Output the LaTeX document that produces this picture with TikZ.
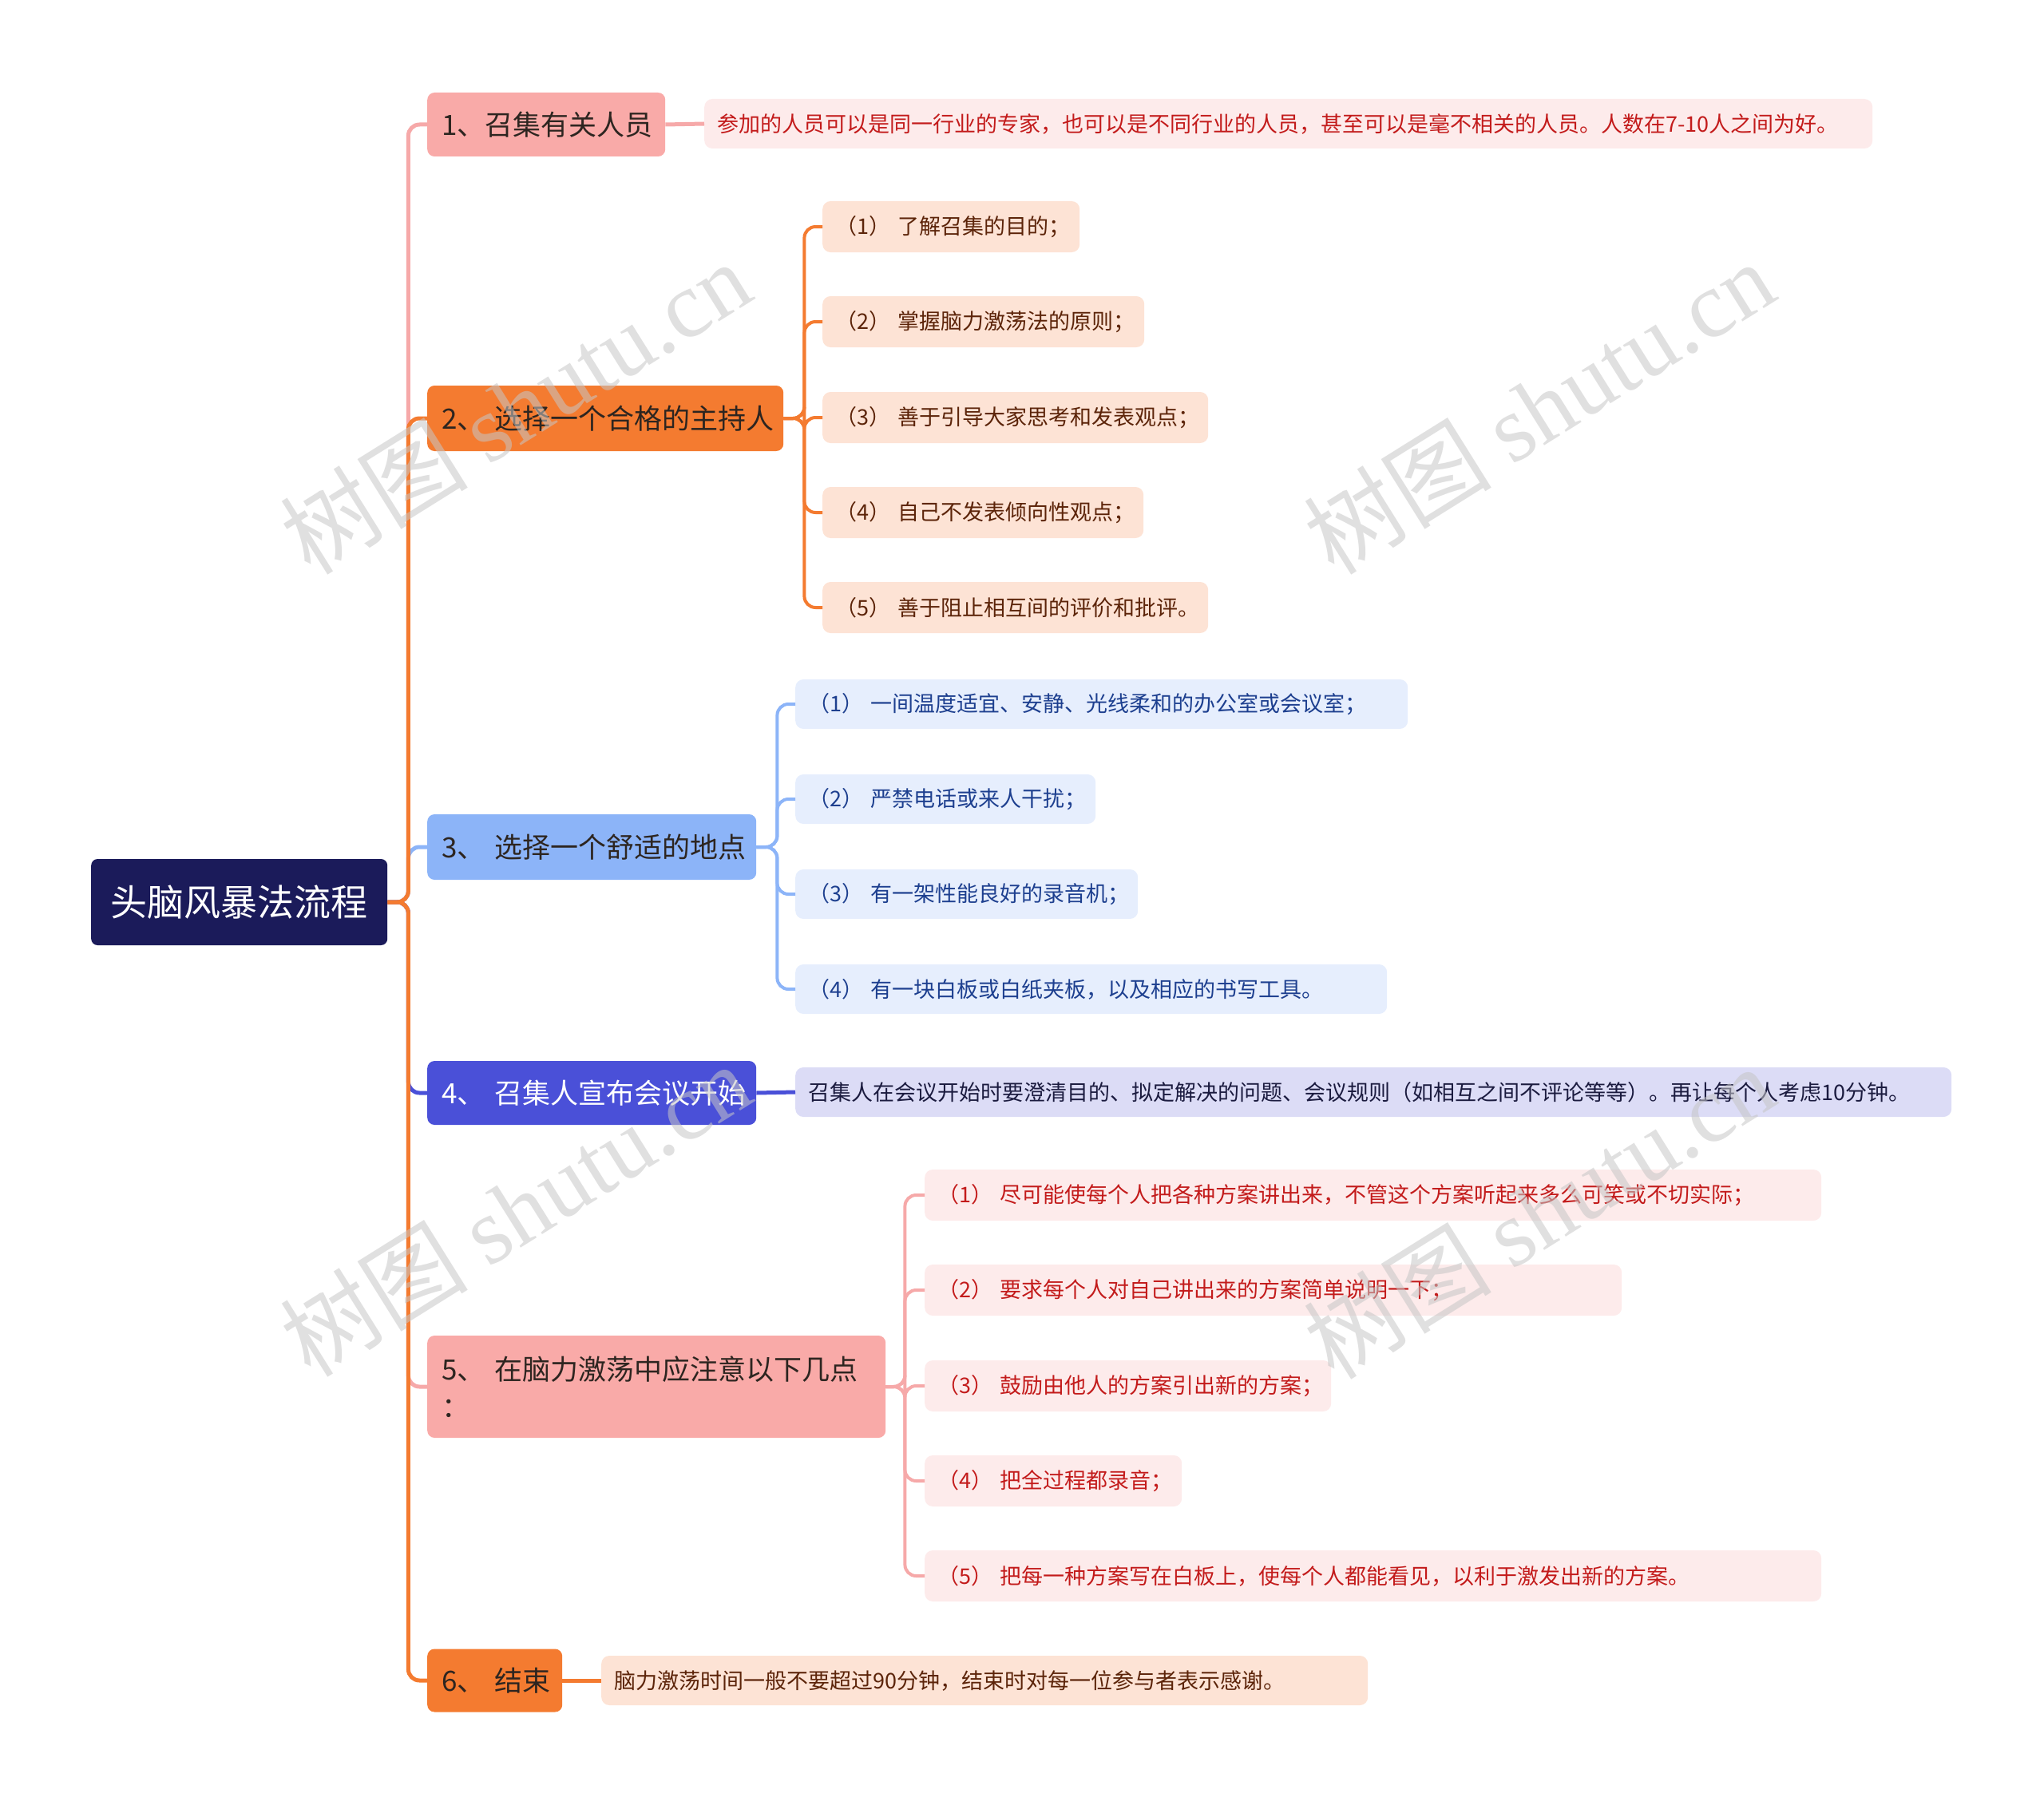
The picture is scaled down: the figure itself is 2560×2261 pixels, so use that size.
\documentclass[tikz,border=0pt]{standalone}
\usepackage{fontspec}
\setmainfont{Noto Sans CJK SC}
\newfontfamily\wmlatin{Liberation Serif}
\definecolor{rootc}{HTML}{1B1B5A}
\definecolor{pinkc}{HTML}{F9AAA8}
\definecolor{orangec}{HTML}{F47B30}
\definecolor{lbluec}{HTML}{8CB4F8}
\definecolor{bluec}{HTML}{4A50D8}
\definecolor{pinkline}{HTML}{F6A9A9}
\definecolor{lvtext}{HTML}{2D2520}
\definecolor{lfpink}{HTML}{FDEBEB}
\definecolor{lfpinkt}{HTML}{C31B1B}
\definecolor{lfpeach}{HTML}{FDE3D5}
\definecolor{lfpeacht}{HTML}{5C2409}
\definecolor{lfblue}{HTML}{E6EEFD}
\definecolor{lfbluet}{HTML}{1D3F8F}
\definecolor{lflav}{HTML}{DCDCF6}
\definecolor{lflavt}{HTML}{1B1B3F}
\begin{document}
\begin{tikzpicture}[x=1pt,y=-1pt,
  rootbox/.style={fill=rootc, rounded corners=8, text=white, font=\fontsize{46}{55}\selectfont, minimum width=371, minimum height=108, inner sep=0, anchor=west},
  lone/.style={rounded corners=9, anchor=west, inner xsep=18, inner ysep=0, align=left, font=\fontsize{35}{47}\selectfont, text=lvtext},
  leaf/.style={rounded corners=10, anchor=west, inner xsep=16, inner ysep=0, align=left, font=\fontsize{27}{32}\selectfont, minimum height=62},
  pk/.style={leaf, fill=lfpink, text=lfpinkt},
  pc/.style={leaf, fill=lfpeach, text=lfpeacht},
  lb/.style={leaf, fill=lfblue, text=lfbluet},
  lv/.style={leaf, fill=lflav, text=lflavt},
  trunk/.style={line width=5, rounded corners=14},
  sub/.style={line width=4, rounded corners=14},
  wm/.style={text=gray!45, text opacity=0.55, rotate=32, font=\fontsize{118}{130}\selectfont}
]
\useasboundingbox (0,0) rectangle (2560,2261);

% root
\node[rootbox] (root) at (114,1130) {头脑风暴法流程};

% level one
\node[lone, fill=pinkc, text width=262, minimum height=80] (n1) at (535,156) {1、召集有关人员};
\node[lone, fill=orangec, text width=410, minimum height=82] (n2) at (535,524) {2、~选择一个合格的主持人};
\node[lone, fill=lbluec, text width=376, minimum height=82] (n3) at (535,1061) {3、~选择一个舒适的地点};
\node[lone, fill=bluec, text=white, text width=376, minimum height=80] (n4) at (535,1369) {4、~召集人宣布会议开始};
\node[lone, fill=pinkc, text width=538, minimum height=128] (n5) at (535,1737) {5、~在脑力激荡中应注意以下几点\\：};
\node[lone, fill=orangec, text width=133, minimum height=79] (n6) at (535,2105) {6、~结束};

% leaves
\node[pk, text width=1431] (l1) at (882,155) {参加的人员可以是同一行业的专家，也可以是不同行业的人员，甚至可以是毫不相关的人员。人数在7-10人之间为好。};

\node[pc, text width=290, minimum height=64] (l21) at (1030,284) {（1）~了解召集的目的；};
\node[pc, text width=371, minimum height=64] (l22) at (1030,403) {（2）~掌握脑力激荡法的原则；};
\node[pc, text width=451, minimum height=64] (l23) at (1030,523) {（3）~善于引导大家思考和发表观点；};
\node[pc, text width=370, minimum height=64] (l24) at (1030,642) {（4）~自己不发表倾向性观点；};
\node[pc, text width=451, minimum height=64] (l25) at (1030,761) {（5）~善于阻止相互间的评价和批评。};

\node[lb, text width=735] (l31) at (996,882) {（1）~一间温度适宜、安静、光线柔和的办公室或会议室；};
\node[lb, text width=344] (l32) at (996,1001) {（2）~严禁电话或来人干扰；};
\node[lb, text width=397] (l33) at (996,1120) {（3）~有一架性能良好的录音机；};
\node[lb, text width=709] (l34) at (996,1239) {（4）~有一块白板或白纸夹板，以及相应的书写工具。};

\node[lv, text width=1416] (l4) at (996,1368) {召集人在会议开始时要澄清目的、拟定解决的问题、会议规则（如相互之间不评论等等）。再让每个人考虑10分钟。};

\node[pk, text width=1091, minimum height=64] (l51) at (1158,1497) {（1）~尽可能使每个人把各种方案讲出来，不管这个方案听起来多么可笑或不切实际；};
\node[pk, text width=841, minimum height=64] (l52) at (1158,1616) {（2）~要求每个人对自己讲出来的方案简单说明一下；};
\node[pk, text width=477, minimum height=64] (l53) at (1158,1736) {（3）~鼓励由他人的方案引出新的方案；};
\node[pk, text width=290, minimum height=64] (l54) at (1158,1855) {（4）~把全过程都录音；};
\node[pk, text width=1091, minimum height=64] (l55) at (1158,1974) {（5）~把每一种方案写在白板上，使每个人都能看见，以利于激发出新的方案。};

\node[pc, text width=928] (l6) at (753,2105) {脑力激荡时间一般不要超过90分钟，结束时对每一位参与者表示感谢。};

% trunk connectors
\draw[trunk, pinkline] (root.east) -- ++(26,0) |- (n1.west);
\draw[trunk, pinkline] (root.east) -- ++(26,0) |- (n5.west);
\draw[trunk, lbluec] (root.east) -- ++(26,0) |- (n3.west);
\draw[trunk, bluec] (root.east) -- ++(26,0) |- (n4.west);
\draw[trunk, orangec] (root.east) -- ++(26,0) |- (n2.west);
\draw[trunk, orangec] (root.east) -- ++(26,0) |- (n6.west);

% single-child connectors
\draw[trunk, pinkline] (n1.east) -- (l1.west);
\draw[trunk, bluec] (n4.east) -- (l4.west);
\draw[trunk, orangec] (n6.east) -- (l6.west);

% sub-branches
\foreach \k in {l21,l22,l23,l24,l25}{
  \draw[sub, orangec] (n2.east) -- ++(26,0) |- (\k.west);
}
\foreach \k in {l31,l32,l33,l34}{
  \draw[sub, lbluec] (n3.east) -- ++(26,0) |- (\k.west);
}
\foreach \k in {l51,l52,l53,l54,l55}{
  \draw[sub, pinkline] (n5.east) -- ++(24,0) |- (\k.west);
}

% watermarks
\node[wm] (w1) at (645,510) {树图 {\wmlatin shutu.cn}};
\node[wm] (w2) at (1927,510) {树图 {\wmlatin shutu.cn}};
\node[wm] (w3) at (645,1515) {树图 {\wmlatin shutu.cn}};
\node[wm] (w4) at (1927,1518) {树图 {\wmlatin shutu.cn}};
\end{tikzpicture}
\end{document}
